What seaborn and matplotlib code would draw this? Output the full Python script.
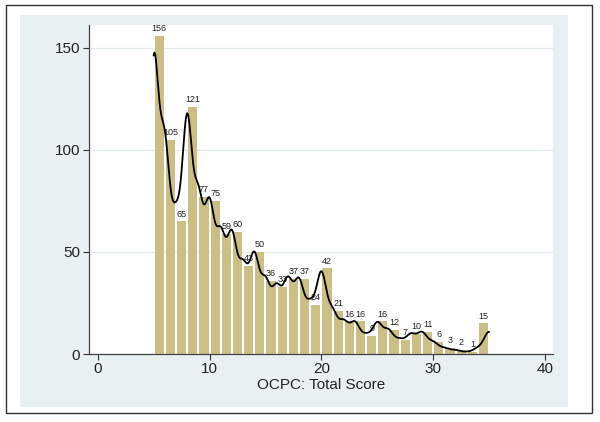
#######################################################################
# imports
import numpy as np
import matplotlib
matplotlib.use('Agg')
import matplotlib.pyplot as plt
import seaborn as sns
from matplotlib.patches import Rectangle

#######################################################################
# data (score -> frequency)
# last bar (15) holds scores 34 and 35 together
scores = [5, 6, 7, 8, 9, 10, 11, 12, 13, 14, 15, 16, 17, 18, 19, 20,
          21, 22, 23, 24, 25, 26, 27, 28, 29, 30, 31, 32, 33, 34, 35]
counts = [156, 105, 65, 121, 77, 75, 59, 60, 43, 50, 36, 33, 37, 37, 24, 42,
          21, 16, 16, 9, 16, 12, 7, 10, 11, 6, 3, 2, 1, 3, 12]
bin_edges = list(range(5, 36))
x_ticks = [0, 10, 20, 30, 40]
y_ticks = [0, 50, 100, 150]
x_title = 'OCPC: Total Score'

#######################################################################
# styling
sns.set_style('white')
plt.rcParams['font.family'] = ['Liberation Sans', 'DejaVu Sans']

bar_color = '#CBBF86'
panel_color = '#E8F0F2'
grid_color = '#E3EBED'

# kernel bandwidth of about 0.45 score points
w_std = np.sqrt(np.cov(np.array(scores, dtype=float), aweights=counts))
bw_factor = 0.45 / w_std

#######################################################################
# plotting
fig = plt.figure(figsize=(6, 4.22), dpi=100)
fig.patch.set_facecolor('white')

# outer frame and graph region
fig.patches.append(Rectangle((0.010, 0.021), 0.977, 0.967,
                             transform=fig.transFigure, facecolor='white',
                             edgecolor='#333333', linewidth=1.0, zorder=-2))
fig.patches.append(Rectangle((0.0333, 0.0355), 0.9133, 0.929,
                             transform=fig.transFigure, facecolor=panel_color,
                             edgecolor='none', zorder=-1))

ax = fig.add_axes([0.1475, 0.161, 0.774, 0.779])
ax.set_facecolor('white')

sns.histplot(x=scores, weights=counts, bins=bin_edges, ax=ax,
             color=bar_color, alpha=1.0, edgecolor='none', linewidth=0,
             shrink=0.82, kde=True,
             kde_kws={'bw_method': bw_factor, 'cut': 0, 'gridsize': 400},
             line_kws={'linewidth': 1.3})

# kde curve in black, on top of the bars
for line in ax.lines:
    line.set_color('black')
    line.set_zorder(4)

# value labels above bars
ax.bar_label(ax.containers[0], fmt='%g', fontsize=6.5, padding=2,
             color='#222222')

# axes
ax.set_xlim(-0.82, 40.7)
ax.set_ylim(0, 161)
ax.set_xticks(x_ticks)
ax.set_yticks(y_ticks)
ax.set_xlabel(x_title, fontsize=11, labelpad=1, color='#222222')
ax.set_ylabel('')
ax.yaxis.grid(True, color=grid_color, linewidth=0.9)
ax.set_axisbelow(True)
ax.tick_params(axis='both', direction='out', length=4, width=0.8,
               labelsize=11, colors='#333333', labelcolor='#222222', pad=2,
               left=True, bottom=True)
for side in ['top', 'right']:
    ax.spines[side].set_visible(False)
for side in ['left', 'bottom']:
    ax.spines[side].set_color('#444444')
    ax.spines[side].set_linewidth(0.9)

fig.savefig('out.png', dpi=100, facecolor='white')
plt.close()
